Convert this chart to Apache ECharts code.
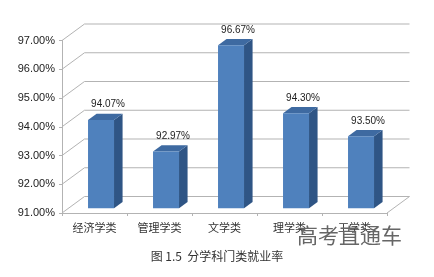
<!DOCTYPE html>
<html>
<head>
<meta charset="utf-8">
<script src="https://cdn.jsdelivr.net/npm/echarts@6/dist/echarts.min.js"></script>
<style>
html,body{margin:0;padding:0;background:#fff;}
#chart{width:434px;height:277px;}
</style>
</head>
<body>
<div id="chart"></div>
<script>
const categories = ['经济学类', '管理学类', '文学类', '理学类', '工学类'];
const rates = [94.07, 92.97, 96.67, 94.30, 93.50];
const yTicks = [91, 92, 93, 94, 95, 96, 97];

const DX = 22.5, DY = -16.5;   // depth vector of the 3D box
const T0 = 0.29, T1 = 0.67;     // bar front / back depth fraction
const gridColor = '#b3b3b3';

const chart = echarts.init(document.getElementById('chart'), null, {renderer: 'canvas'});

const option = {
  animation: false,
  backgroundColor: '#fff',
  grid: {left: 62, right: 47, top: 40.5, bottom: 64},
  xAxis: {
    type: 'category',
    data: categories,
    axisLine: {lineStyle: {color: gridColor, width: 1}},
    axisTick: {show: true, length: 3, lineStyle: {color: gridColor}},
    axisLabel: {color: '#333', fontSize: 11, margin: 9, fontFamily: 'Noto Sans CJK SC'}
  },
  yAxis: {
    type: 'value',
    min: 91, max: 97, interval: 1,
    axisLine: {show: true, lineStyle: {color: gridColor, width: 1}},
    axisTick: {show: true, length: 3, lineStyle: {color: gridColor}},
    splitLine: {show: false},
    axisLabel: {
      color: '#222', fontSize: 11, margin: 7, fontFamily: 'Liberation Sans',
      formatter: v => v.toFixed(2) + '%'
    }
  },
  series: [
    {
      type: 'custom',
      z: 1,
      silent: true,
      clip: false,
      data: yTicks.map(v => [0, v]),
      encode: {x: 0, y: 1},
      renderItem: function (params, api) {
        const cs = params.coordSys;
        const v = api.value(1);
        const y = api.coord([0, v])[1];
        const style = {stroke: gridColor, lineWidth: 1, fill: null};
        const children = [
          {type: 'line', shape: {x1: cs.x, y1: y, x2: cs.x + DX, y2: y + DY}, style: style},
          {type: 'line', shape: {x1: cs.x + DX, y1: y + DY, x2: cs.x + cs.width + DX, y2: y + DY}, style: style}
        ];
        if (v === yTicks[0]) {
          children.push({type: 'line', shape: {x1: cs.x + cs.width, y1: y, x2: cs.x + cs.width + DX, y2: y + DY}, style: style});
        }
        return {type: 'group', children: children};
      }
    },
    {
      type: 'custom',
      z: 2,
      clip: false,
      data: rates.map((v, i) => [i, v]),
      encode: {x: 0, y: 1},
      renderItem: function (params, api) {
        const idx = api.value(0);
        const v = api.value(1);
        const base = api.coord([idx, yTicks[0]]);
        const top = api.coord([idx, v]);
        const bw = api.size([1, 0])[0] * 0.4;
        const x0 = base[0] - bw / 2 + DX * T0;
        const x1 = x0 + bw;
        const yb = base[1] + DY * T0;
        const yt = top[1] + DY * T0;
        const ddx = DX * (T1 - T0), ddy = DY * (T1 - T0);
        return {
          type: 'group',
          children: [
            {type: 'polygon', shape: {points: [[x1, yt], [x1 + ddx, yt + ddy], [x1 + ddx, yb + ddy], [x1, yb]]},
              style: {fill: '#2f5585'}},
            {type: 'polygon', shape: {points: [[x0, yt], [x1, yt], [x1 + ddx, yt + ddy], [x0 + ddx, yt + ddy]]},
              style: {fill: '#3e6aa1'}},
            {type: 'rect', shape: {x: x0, y: yt, width: bw, height: yb - yt},
              style: {fill: '#4f81bd'}},
            {type: 'text', x: x0 + bw / 2 + 7, y: yt + ddy - 9,
              style: {text: v.toFixed(2) + '%', fill: '#222', fontSize: 10, fontFamily: 'Liberation Sans',
                align: 'center', verticalAlign: 'middle'}}
          ]
        };
      }
    }
  ],
  graphic: [
    {type: 'text', left: 'center', top: 250, z: 10,
      style: {text: '图 1.5  分学科门类就业率', fill: '#333', fontSize: 12, fontFamily: 'Noto Sans CJK SC'}},
    {type: 'text', left: 297, top: 225, z: 10,
      style: {text: '高考直通车', fill: '#666', fontSize: 21, fontFamily: 'Noto Sans CJK SC'}}
  ]
};
chart.setOption(option);
</script>
</body>
</html>
